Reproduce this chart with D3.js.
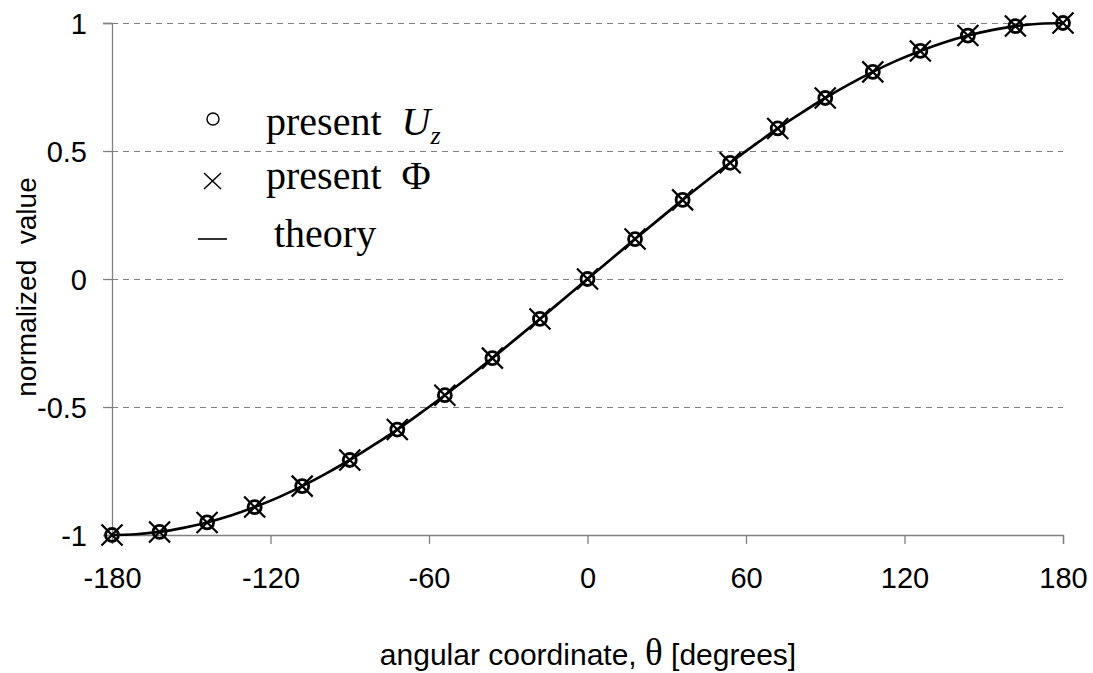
<!DOCTYPE html>
<html>
<head>
<meta charset="utf-8">
<script src="https://cdn.jsdelivr.net/npm/d3@7"></script>
<style>
  body { margin: 0; background: #fff; }
  text { white-space: pre; }
</style>
</head>
<body>
<script>
// ---------- DATA ----------
var angles = [-180, -162, -144, -126, -108, -90, -72, -54, -36, -18, 0,
              18, 36, 54, 72, 90, 108, 126, 144, 162, 180];
var uzValues = [-1, -0.988, -0.951, -0.891, -0.809, -0.707, -0.588, -0.454, -0.309, -0.156, 0,
                0.156, 0.309, 0.454, 0.588, 0.707, 0.809, 0.891, 0.951, 0.988, 1];
var phiValues = [-1, -0.988, -0.951, -0.891, -0.809, -0.707, -0.588, -0.454, -0.309, -0.156, 0,
                 0.156, 0.309, 0.454, 0.588, 0.707, 0.809, 0.891, 0.951, 0.988, 1];
var theoryAngles = [-180, -171, -162, -153, -144, -135, -126, -117, -108, -99, -90, -81, -72, -63, -54, -45, -36, -27, -18, -9, 0,
                    9, 18, 27, 36, 45, 54, 63, 72, 81, 90, 99, 108, 117, 126, 135, 144, 153, 162, 171, 180];
var theoryValues = [-1, -0.997, -0.988, -0.972, -0.951, -0.924, -0.891, -0.853, -0.809, -0.760, -0.707, -0.649, -0.588, -0.522, -0.454, -0.383, -0.309, -0.233, -0.156, -0.078, 0,
                    0.078, 0.156, 0.233, 0.309, 0.383, 0.454, 0.522, 0.588, 0.649, 0.707, 0.760, 0.809, 0.853, 0.891, 0.924, 0.951, 0.972, 0.988, 0.997, 1];
var xTicks = [-180, -120, -60, 0, 60, 120, 180];
var yTicks = [-1, -0.5, 0, 0.5, 1];
var gridValues = [-0.5, 0, 0.5, 1];

// ---------- DIMENSIONS ----------
var w = 1093, h = 673;
var margin = { top: 23, left: 112 };
var innerW = 1063 - margin.left;
var innerH = 535 - margin.top;

var sans = "Arial, 'Liberation Sans', sans-serif";
var serif = "'Liberation Serif', 'Times New Roman', serif";
var axisColor = "#808080";

var svg = d3.select("body").append("svg")
  .attr("width", w)
  .attr("height", h);

var g = svg.append("g")
  .attr("transform", "translate(" + margin.left + "," + margin.top + ")");

var x = d3.scaleLinear().domain([-180, 180]).range([0, innerW]);
var y = d3.scaleLinear().domain([-1, 1]).range([innerH, 0]);

// ---------- GRID ----------
g.selectAll(".grid")
  .data(gridValues)
  .enter()
  .append("line")
  .attr("x1", 0).attr("x2", innerW)
  .attr("y1", d => y(d)).attr("y2", d => y(d))
  .attr("stroke", axisColor)
  .attr("stroke-width", 1)
  .attr("stroke-dasharray", "6,5")
  .attr("shape-rendering", "crispEdges");

// ---------- AXES ----------
var yAxis = g.append("g")
  .call(d3.axisLeft(y).tickValues(yTicks).tickSize(9).tickPadding(16).tickFormat(d => String(d)));
var xAxis = g.append("g")
  .attr("transform", "translate(0," + innerH + ")")
  .call(d3.axisBottom(x).tickValues(xTicks).tickSize(9).tickPadding(30).tickFormat(d => String(d)));

[xAxis, yAxis].forEach(function (a) {
  a.select(".domain").attr("stroke", axisColor).attr("stroke-width", 1.3);
  a.selectAll(".tick line").attr("stroke", axisColor).attr("stroke-width", 1.3);
  a.selectAll(".tick text")
    .attr("font-family", sans)
    .attr("font-size", "29px")
    .attr("fill", "#000");
});
yAxis.selectAll(".tick text").attr("dy", "0.36em");
xAxis.selectAll(".tick text").attr("dy", 0).attr("y", 53);

// ---------- THEORY LINE ----------
var theory = theoryAngles.map((a, i) => [a, theoryValues[i]]);
g.append("path")
  .datum(theory)
  .attr("fill", "none")
  .attr("stroke", "#000")
  .attr("stroke-width", 2.7)
  .attr("d", d3.line().x(d => x(d[0])).y(d => y(d[1])).curve(d3.curveMonotoneX));

// ---------- MARKERS ----------
g.selectAll(".uz")
  .data(angles.map((a, i) => [a, uzValues[i]]))
  .enter()
  .append("circle")
  .attr("cx", d => x(d[0]))
  .attr("cy", d => y(d[1]))
  .attr("r", 6.5)
  .attr("fill", "none")
  .attr("stroke", "#000")
  .attr("stroke-width", 2.8);

var cs = 10.5;
g.selectAll(".phi")
  .data(angles.map((a, i) => [a, phiValues[i]]))
  .enter()
  .append("path")
  .attr("transform", d => "translate(" + x(d[0]) + "," + y(d[1]) + ")")
  .attr("d", "M" + (-cs) + "," + (-cs) + "L" + cs + "," + cs + "M" + cs + "," + (-cs) + "L" + (-cs) + "," + cs)
  .attr("fill", "none")
  .attr("stroke", "#000")
  .attr("stroke-width", 2.2);

// ---------- LEGEND ----------
var legend = svg.append("g");

legend.append("circle")
  .attr("cx", 213).attr("cy", 119).attr("r", 6)
  .attr("fill", "none").attr("stroke", "#000").attr("stroke-width", 1.4);
var t1 = legend.append("text")
  .attr("x", 266).attr("y", 135)
  .attr("font-family", serif).attr("font-size", "40px").attr("fill", "#000");
t1.append("tspan").text("present  ");
t1.append("tspan").attr("font-style", "italic").text("U");
t1.append("tspan").attr("font-style", "italic").attr("font-size", "26px").attr("dy", 9).text("z");

legend.append("path")
  .attr("d", "M204,173L221,189M221,173L204,189")
  .attr("stroke", "#000").attr("stroke-width", 1.5);
legend.append("text")
  .attr("x", 266).attr("y", 189)
  .attr("font-family", serif).attr("font-size", "40px").attr("fill", "#000")
  .text("present  \u03A6");

legend.append("line")
  .attr("x1", 198).attr("x2", 227).attr("y1", 239).attr("y2", 239)
  .attr("stroke", "#000").attr("stroke-width", 1.6);
legend.append("text")
  .attr("x", 274).attr("y", 247)
  .attr("font-family", serif).attr("font-size", "40px").attr("fill", "#000")
  .text("theory");

// ---------- AXIS TITLES ----------
svg.append("text")
  .attr("x", 588).attr("y", 665)
  .attr("text-anchor", "middle")
  .attr("font-family", sans)
  .attr("font-size", "30px")
  .attr("fill", "#000")
  .call(function (t) {
    t.append("tspan").text("angular coordinate, ");
    t.append("tspan").attr("font-family", serif).attr("font-size", "37px").text("\u03B8");
    t.append("tspan").text(" [degrees]");
  });

svg.append("text")
  .attr("transform", "translate(36,287) rotate(-90)")
  .attr("text-anchor", "middle")
  .attr("font-family", sans)
  .attr("font-size", "28px")
  .attr("fill", "#000")
  .text("normalized  value");
</script>
</body>
</html>
